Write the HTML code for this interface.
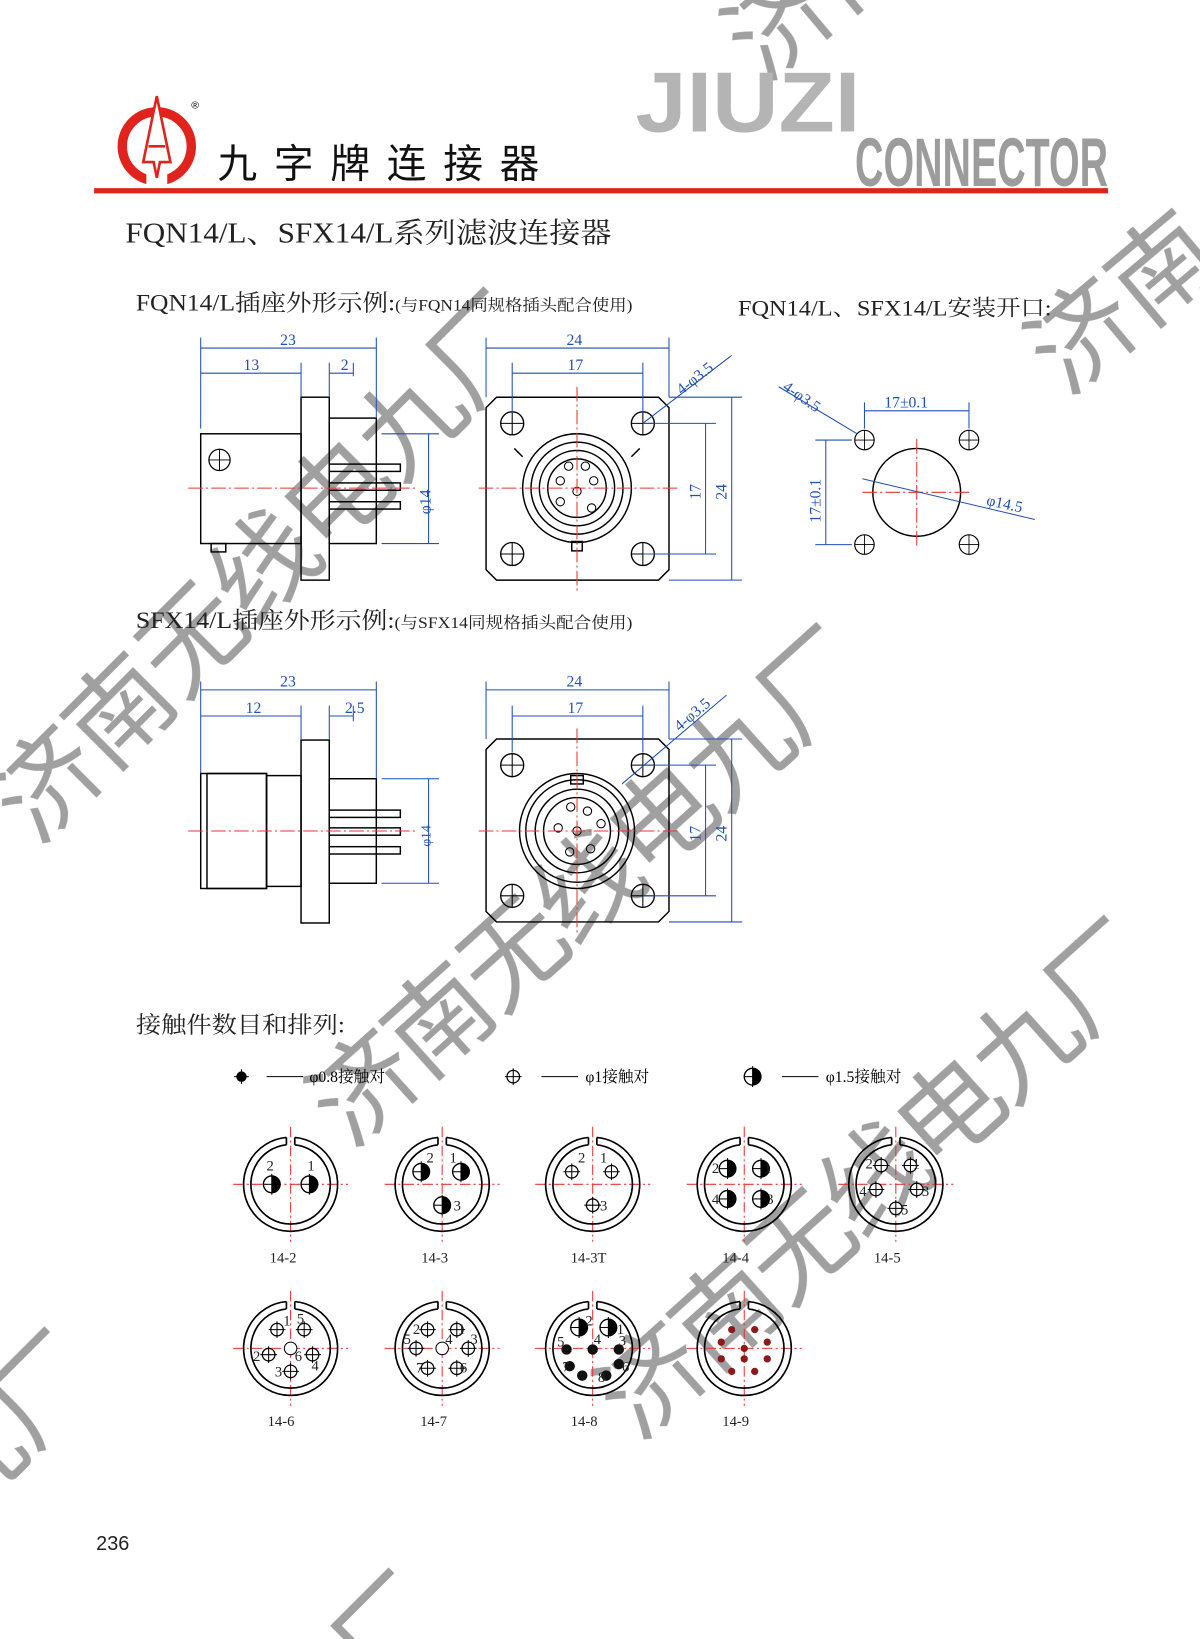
<!DOCTYPE html>
<html><head><meta charset="utf-8">
<style>
html,body{margin:0;padding:0;background:#fff;}
svg{display:block;}
.s{font-family:"Liberation Serif","Noto Serif CJK SC",serif;}
.k{font-family:"Liberation Sans","Noto Sans CJK SC",sans-serif;}
</style></head>
<body>
<svg width="1200" height="1639" viewBox="0 0 1148 1568" xmlns="http://www.w3.org/2000/svg">
<defs>
<symbol id="c15" viewBox="-9 -9 18 18" overflow="visible">
 <circle r="8" fill="#fff" stroke="#000" stroke-width="1.3"/>
 <path d="M0,-8 A8,8 0 0 1 0,8 Z" fill="#000"/>
 <line x1="-8" y1="0" x2="0" y2="0" stroke="#000" stroke-width="1"/>
 <line x1="0" y1="-10" x2="0" y2="10" stroke="#000" stroke-width="1"/>
</symbol>
<symbol id="c1" viewBox="-9 -9 18 18" overflow="visible">
 <circle r="6" fill="#fff" stroke="#000" stroke-width="1.2"/>
 <line x1="-8" y1="0" x2="8" y2="0" stroke="#000" stroke-width="1"/>
 <line x1="0" y1="-8" x2="0" y2="8" stroke="#000" stroke-width="1"/>
</symbol>
<symbol id="c08" viewBox="-9 -9 18 18" overflow="visible">
 <circle r="5" fill="#000"/>
 <line x1="-7" y1="0" x2="7" y2="0" stroke="#000" stroke-width="1"/>
 <line x1="0" y1="-7" x2="0" y2="7" stroke="#000" stroke-width="1"/>
</symbol>
<symbol id="hole" viewBox="-13 -13 26 26" overflow="visible">
 <circle r="11" fill="none" stroke="#000" stroke-width="1.3"/>
 <line x1="-11" y1="0" x2="11" y2="0" stroke="#000" stroke-width="1"/>
 <line x1="0" y1="-11" x2="0" y2="11" stroke="#000" stroke-width="1"/>
</symbol>
<symbol id="conn" viewBox="-55 -55 110 110" overflow="visible">
 <line x1="-55" y1="0" x2="55" y2="0" stroke="#e33" stroke-width="1" stroke-dasharray="10,3,2,3"/>
 <line x1="0" y1="-55" x2="0" y2="55" stroke="#e33" stroke-width="1" stroke-dasharray="10,3,2,3"/>
 <path d="M-4,-44.8 A45,45 0 1 0 4,-44.8" fill="none" stroke="#000" stroke-width="1.6"/>
 <path d="M-4,-37.8 A38,38 0 1 0 4,-37.8" fill="none" stroke="#000" stroke-width="1.6"/>
 <path d="M-4,-44.8 V-37.8 M4,-44.8 V-37.8" stroke="#000" stroke-width="1.6"/>
</symbol>
</defs>

<!-- watermarks -->
<g class="k" fill="#777" opacity="0.7" font-size="100">
 <text transform="translate(35,810) rotate(-45)" letter-spacing="-2">济南无线电九厂</text>
 <text transform="translate(335,1100) rotate(-42)" letter-spacing="-4">济南无线电九厂</text>
 <text transform="translate(610,1380) rotate(-42)" letter-spacing="-4">济南无线电九厂</text>
 <text transform="translate(-40,1460) rotate(-45)">九厂</text>
 <text transform="translate(730,80) rotate(-40)">济南</text>
 <text transform="translate(1020,380) rotate(-40)">济南</text>
 <text transform="translate(360,1620) rotate(-45)">厂</text>
</g>

<!-- header -->
<g>
 <circle cx="150" cy="140" r="33" fill="none" stroke="#e0231c" stroke-width="9"/>
 <rect x="140" y="160" width="20" height="20" fill="#fff"/>
 <path d="M150,92 L137,155 L147,155 L150,170 L153,155 L163,155 Z" fill="#fff" stroke="#e0231c" stroke-width="2.5"/>
 <path d="M142,140 L158,140" stroke="#e0231c" stroke-width="2.5"/>
 <text x="183" y="104" class="k" font-size="10">®</text>
 <text x="208" y="170" class="k" font-size="38" fill="#111" textLength="308" lengthAdjust="spacing">九字牌连接器</text>
 <text x="608" y="126" class="k" font-size="82" font-weight="bold" fill="#b4b4b4" textLength="215" lengthAdjust="spacingAndGlyphs">JIUZI</text>
 <text x="818" y="178" class="k" font-size="66" font-weight="bold" fill="#9c9c9c" textLength="242" lengthAdjust="spacingAndGlyphs">CONNECTOR</text>
 <rect x="90" y="180" width="970" height="5" fill="#e0231c"/>
</g>

<text x="120" y="232" class="s" font-size="27" fill="#222" textLength="465" lengthAdjust="spacingAndGlyphs">FQN14/L、SFX14/L系列滤波连接器</text>
<text x="130" y="297" class="s" font-size="22" fill="#222" textLength="475" lengthAdjust="spacingAndGlyphs">FQN14/L插座外形示例:<tspan font-size="15">(与FQN14同规格插头配合使用)</tspan></text>
<text x="706" y="302" class="s" font-size="21" fill="#222" textLength="300" lengthAdjust="spacingAndGlyphs">FQN14/L、SFX14/L安装开口:</text>
<text x="130" y="601" class="s" font-size="22" fill="#222" textLength="475" lengthAdjust="spacingAndGlyphs">SFX14/L插座外形示例:<tspan font-size="15">(与SFX14同规格插头配合使用)</tspan></text>
<text x="130" y="988" class="s" font-size="22" fill="#222" textLength="200" lengthAdjust="spacingAndGlyphs">接触件数目和排列:</text>

<!-- FQN side view -->
<g stroke="#000" stroke-width="1.4" fill="none">
 <rect x="192" y="415" width="96" height="105"/>
 <rect x="288" y="380" width="27" height="175"/>
 <rect x="315" y="400" width="45" height="120"/>
 <rect x="315" y="444" width="68" height="7"/>
 <rect x="315" y="462" width="68" height="7"/>
 <rect x="315" y="480" width="68" height="7"/>
 <rect x="202" y="520" width="14" height="8"/>
</g>
<use href="#hole" x="198" y="428" width="24" height="24"/>
<line x1="180" y1="467" x2="400" y2="467" stroke="#e33" stroke-dasharray="14,3,2,3"/>
<g stroke="#1f4fb8" stroke-width="1" fill="#1f4fb8" class="s" font-size="15">
 <path d="M192,323V410 M360,323V400 M288,347V380 M315,347V380 M338,347V360" fill="none"/>
 <path d="M192,333H360 M192,357H288 M315,357H338" fill="none"/>
 <text x="268" y="330" stroke="none">23</text>
 <text x="233" y="354" stroke="none">13</text>
 <text x="326" y="354" stroke="none">2</text>
 <path d="M365,415H420 M365,520H420 M410,415V520" fill="none"/>
 <text x="0" y="0" stroke="none" transform="translate(412,492) rotate(-90)">φ14</text>
</g>

<!-- FQN front view -->
<g stroke="#000" stroke-width="1.4" fill="none">
 <path d="M475,380H630L640,390V545L630,555H475L465,545V390Z"/>
 <circle cx="552" cy="467" r="52"/>
 <circle cx="552" cy="467" r="44"/>
 <circle cx="552" cy="467" r="36"/>
 <circle cx="552" cy="467" r="28"/>
 <rect x="547" y="518" width="10" height="9"/>
 <path d="M500,437l-8,-8 M604,437l8,-8"/>
</g>
<g stroke="#000" stroke-width="1" fill="none">
 <circle cx="544" cy="446" r="4"/><circle cx="560" cy="446" r="4"/><circle cx="536" cy="460" r="4"/>
 <circle cx="568" cy="460" r="4"/><circle cx="552" cy="470" r="4"/><circle cx="536" cy="480" r="4"/><circle cx="566" cy="486" r="4"/>
</g>
<use href="#hole" x="477" y="392" width="26" height="26"/>
<use href="#hole" x="602" y="392" width="26" height="26"/>
<use href="#hole" x="477" y="517" width="26" height="26"/>
<use href="#hole" x="602" y="517" width="26" height="26"/>
<path d="M458,467H650 M552,370V565" stroke="#e33" stroke-dasharray="14,3,2,3"/>
<g stroke="#1f4fb8" stroke-width="1" fill="none">
 <path d="M465,323V380 M640,323V380 M490,347V395 M615,347V395 M465,333H640 M490,357H615"/>
 <path d="M615,405H685 M615,530H685 M640,380H710 M640,555H710 M675,405V530 M700,380V555"/>
 <path d="M615,405L700,340"/>
</g>
<g class="s" font-size="15" fill="#1f4fb8">
 <text x="542" y="330">24</text><text x="543" y="354">17</text>
 <text transform="translate(670,478) rotate(-90)">17</text>
 <text transform="translate(695,478) rotate(-90)">24</text>
 <text transform="translate(652,378) rotate(-38)">4-φ3.5</text>
</g>

<!-- install cutout -->
<use href="#hole" x="816" y="410" width="22" height="22"/>
<use href="#hole" x="916" y="410" width="22" height="22"/>
<use href="#hole" x="816" y="510" width="22" height="22"/>
<use href="#hole" x="916" y="510" width="22" height="22"/>
<circle cx="877" cy="471" r="42" fill="none" stroke="#000" stroke-width="1.4"/>
<path d="M825,471H930 M877,420V522" stroke="#e33" stroke-dasharray="14,3,2,3"/>
<g stroke="#1f4fb8" stroke-width="1" fill="none">
 <path d="M827,385V410 M927,385V410 M827,393H927 M780,421H815 M780,521H815 M790,421V521 M745,370L820,415 M825,458L990,497"/>
</g>
<g class="s" font-size="15" fill="#1f4fb8">
 <text x="846" y="390">17±0.1</text>
 <text transform="translate(785,500) rotate(-90)">17±0.1</text>
 <text transform="translate(748,372) rotate(35)">4-φ3.5</text>
 <text transform="translate(943,483) rotate(12)">φ14.5</text>
</g>

<!-- SFX side view -->
<g stroke="#000" stroke-width="1.4" fill="none">
 <rect x="192" y="740" width="63" height="110"/>
 <rect x="198" y="740" width="57" height="110"/>
 <rect x="255" y="742" width="33" height="106"/>
 <rect x="288" y="708" width="27" height="175"/>
 <rect x="315" y="745" width="45" height="100"/>
 <rect x="315" y="775" width="68" height="7"/>
 <rect x="315" y="792" width="68" height="7"/>
 <rect x="315" y="810" width="68" height="7"/>
</g>
<line x1="180" y1="795" x2="400" y2="795" stroke="#e33" stroke-dasharray="14,3,2,3"/>
<g stroke="#1f4fb8" stroke-width="1" fill="none">
 <path d="M192,652V740 M360,652V745 M288,675V708 M315,675V708 M338,675V690 M192,660H360 M192,685H288 M315,685H338"/>
 <path d="M365,745H420 M365,845H420 M410,745V845"/>
</g>
<g class="s" font-size="15" fill="#1f4fb8">
 <text x="268" y="657">23</text><text x="235" y="682">12</text><text x="330" y="682">2.5</text>
 <text transform="translate(412,810) rotate(-90)" font-size="13">φ14</text>
</g>

<!-- SFX front view -->
<g stroke="#000" stroke-width="1.4" fill="none">
 <path d="M475,707H630L640,717V872L630,882H475L465,872V717Z"/>
 <circle cx="552" cy="795" r="55"/>
 <circle cx="552" cy="795" r="49"/>
 <circle cx="552" cy="795" r="40"/>
 <circle cx="552" cy="795" r="32"/>
 <rect x="546" y="742" width="12" height="8"/>
</g>
<g stroke="#000" stroke-width="1" fill="none">
 <circle cx="546" cy="772" r="4"/><circle cx="562" cy="776" r="4"/><circle cx="534" cy="792" r="4"/>
 <circle cx="552" cy="795" r="4"/><circle cx="575" cy="788" r="4"/><circle cx="545" cy="815" r="4"/><circle cx="565" cy="812" r="4"/>
</g>
<use href="#hole" x="477" y="719" width="26" height="26"/>
<use href="#hole" x="602" y="719" width="26" height="26"/>
<use href="#hole" x="477" y="844" width="26" height="26"/>
<use href="#hole" x="602" y="844" width="26" height="26"/>
<path d="M458,795H650 M552,697V893" stroke="#e33" stroke-dasharray="14,3,2,3"/>
<g stroke="#1f4fb8" stroke-width="1" fill="none">
 <path d="M465,652V707 M640,652V707 M490,675V720 M615,675V720 M465,660H640 M490,685H615"/>
 <path d="M615,732H685 M615,857H685 M640,707H710 M640,882H710 M675,732V857 M700,707V882"/>
 <path d="M595,750L695,665"/>
</g>
<g class="s" font-size="15" fill="#1f4fb8">
 <text x="542" y="657">24</text><text x="543" y="682">17</text>
 <text transform="translate(670,805) rotate(-90)">17</text>
 <text transform="translate(695,805) rotate(-90)">24</text>
 <text transform="translate(650,700) rotate(-40)">4-φ3.5</text>
</g>

<!-- legend -->
<use href="#c08" x="222" y="1021" width="18" height="18"/>
<line x1="255" y1="1030" x2="290" y2="1030" stroke="#000"/>
<text x="296" y="1035" class="s" font-size="15">φ0.8接触对</text>
<use href="#c1" x="482" y="1021" width="18" height="18"/>
<line x1="518" y1="1030" x2="553" y2="1030" stroke="#000"/>
<text x="560" y="1035" class="s" font-size="15">φ1接触对</text>
<use href="#c15" x="711" y="1021" width="18" height="18"/>
<line x1="748" y1="1030" x2="783" y2="1030" stroke="#000"/>
<text x="790" y="1035" class="s" font-size="15">φ1.5接触对</text>

<!-- connectors row 1 -->
<g class="s" font-size="14" fill="#222">
<use href="#conn" x="223" y="1078" width="110" height="110"/>
<use href="#c15" x="251" y="1124" width="18" height="18"/><use href="#c15" x="287" y="1124" width="18" height="18"/>
<text x="255" y="1120">2</text><text x="294" y="1120">1</text>
<text x="258" y="1208">14-2</text>

<use href="#conn" x="368" y="1078" width="110" height="110"/>
<use href="#c15" x="394" y="1112" width="18" height="18"/><use href="#c15" x="432" y="1112" width="18" height="18"/><use href="#c15" x="414" y="1144" width="18" height="18"/>
<text x="408" y="1112">2</text><text x="430" y="1112">1</text><text x="434" y="1158">3</text>
<text x="403" y="1208">14-3</text>

<use href="#conn" x="512" y="1078" width="110" height="110"/>
<use href="#c1" x="538" y="1112" width="18" height="18"/><use href="#c1" x="576" y="1112" width="18" height="18"/><use href="#c1" x="558" y="1144" width="18" height="18"/>
<text x="553" y="1112">2</text><text x="574" y="1112">1</text><text x="574" y="1158">3</text>
<text x="546" y="1208">14-3T</text>

<use href="#conn" x="657" y="1078" width="110" height="110"/>
<use href="#c15" x="687" y="1109" width="18" height="18"/><use href="#c15" x="719" y="1109" width="18" height="18"/>
<use href="#c15" x="687" y="1138" width="18" height="18"/><use href="#c15" x="719" y="1138" width="18" height="18"/>
<text x="681" y="1122">2</text><text x="731" y="1122">1</text><text x="681" y="1152">4</text><text x="733" y="1152">3</text>
<text x="691" y="1208">14-4</text>

<use href="#conn" x="802" y="1078" width="110" height="110"/>
<use href="#c1" x="834" y="1106" width="18" height="18"/><use href="#c1" x="862" y="1106" width="18" height="18"/>
<use href="#c1" x="829" y="1129" width="18" height="18"/><use href="#c1" x="868" y="1129" width="18" height="18"/><use href="#c1" x="848" y="1147" width="18" height="18"/>
<text x="828" y="1118">2</text><text x="873" y="1118">1</text><text x="822" y="1144">4</text><text x="882" y="1144">3</text><text x="862" y="1162">5</text>
<text x="836" y="1208">14-5</text>
</g>

<!-- row 2 -->
<g class="s" font-size="14" fill="#222">
<use href="#conn" x="223" y="1235" width="110" height="110"/>
<use href="#c1" x="256" y="1263" width="18" height="18"/><use href="#c1" x="282" y="1263" width="18" height="18"/>
<circle cx="278" cy="1290" r="6" fill="#fff" stroke="#000"/>
<use href="#c1" x="248" y="1287" width="18" height="18"/><use href="#c1" x="290" y="1287" width="18" height="18"/><use href="#c1" x="269" y="1303" width="18" height="18"/>
<text x="271" y="1268">1</text><text x="284" y="1266">5</text><text x="242" y="1302">2</text><text x="282" y="1302">6</text><text x="298" y="1311">4</text><text x="263" y="1317">3</text>
<text x="256" y="1364">14-6</text>

<use href="#conn" x="368" y="1235" width="110" height="110"/>
<use href="#c1" x="400" y="1263" width="18" height="18"/><use href="#c1" x="428" y="1263" width="18" height="18"/>
<use href="#c1" x="389" y="1281" width="18" height="18"/><circle cx="423" cy="1290" r="6" fill="#fff" stroke="#000"/><use href="#c1" x="439" y="1281" width="18" height="18"/>
<use href="#c1" x="400" y="1300" width="18" height="18"/><use href="#c1" x="428" y="1300" width="18" height="18"/>
<text x="395" y="1276">2</text><text x="438" y="1276">1</text><text x="386" y="1286">5</text><text x="426" y="1286">4</text><text x="450" y="1286">3</text><text x="398" y="1313">7</text><text x="440" y="1313">6</text>
<text x="402" y="1364">14-7</text>

<use href="#conn" x="512" y="1235" width="110" height="110"/>
<use href="#c15" x="545" y="1261" width="18" height="18"/><use href="#c15" x="573" y="1261" width="18" height="18"/>
<g fill="#111"><circle cx="542" cy="1291" r="5"/><circle cx="567" cy="1291" r="5"/><circle cx="592" cy="1291" r="5"/>
<circle cx="545" cy="1307" r="5"/><circle cx="557" cy="1316" r="5"/><circle cx="580" cy="1316" r="5"/><circle cx="592" cy="1305" r="5"/></g>
<text x="560" y="1268">2</text><text x="590" y="1276">1</text><text x="533" y="1288">5</text><text x="568" y="1286">4</text><text x="592" y="1287">3</text><text x="538" y="1312">7</text><text x="595" y="1312">6</text><text x="572" y="1322">8</text>
<text x="546" y="1364">14-8</text>

<use href="#conn" x="657" y="1235" width="110" height="110"/>
<g fill="#8b1a1a"><circle cx="700" cy="1272" r="3.5"/><circle cx="722" cy="1272" r="3.5"/><circle cx="690" cy="1284" r="3.5"/><circle cx="734" cy="1284" r="3.5"/>
<circle cx="712" cy="1290" r="3.5"/><circle cx="690" cy="1300" r="3.5"/><circle cx="734" cy="1300" r="3.5"/><circle cx="700" cy="1312" r="3.5"/><circle cx="722" cy="1312" r="3.5"/><circle cx="712" cy="1300" r="3.5"/></g>
<text x="691" y="1364">14-9</text>
</g>

<text x="92" y="1483" class="k" font-size="19" fill="#222">236</text>
</svg>
</body></html>
